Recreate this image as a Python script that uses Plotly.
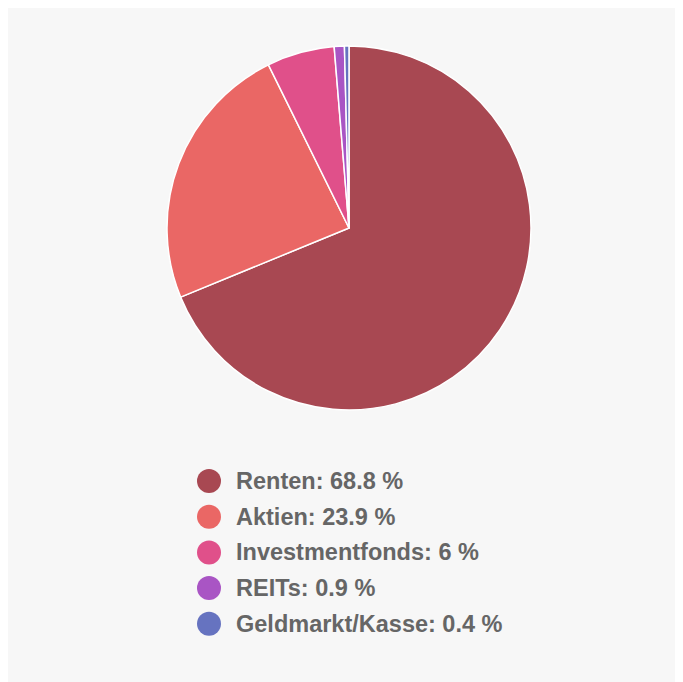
import plotly.graph_objects as go

labels = ["Renten", "Aktien", "Investmentfonds", "REITs", "Geldmarkt/Kasse"]
values = [68.8, 23.9, 6, 0.9, 0.4]
colors = ["#A84852", "#EA6765", "#E0508A", "#A955C4", "#6673C0"]

W, H = 691, 690
off = 8  # page margin in front of the figure
cx, cy, r = 349 - off, 228 - off, 182

legend_text = [f"{l}: {v:g} %" for l, v in zip(labels, values)]

fig = go.Figure()
fig.add_trace(go.Pie(
    labels=labels, values=values, sort=False, direction="clockwise", rotation=0,
    marker=dict(colors=colors, line=dict(color="white", width=1.5)),
    textinfo="none", hoverinfo="label+percent", showlegend=False,
    domain=dict(x=[(cx - r) / W, (cx + r) / W], y=[1 - (cy + r) / H, 1 - (cy - r) / H]),
))

# legend built as a scatter in its own hidden axes
step = 35.7
top = 481 - off - step / 2
bottom = top + step * len(labels)
fig.add_trace(go.Scatter(
    x=[0] * len(labels), y=list(range(len(labels))),
    mode="markers", marker=dict(color=colors, size=24, line=dict(width=0)),
    cliponaxis=False, showlegend=False, hoverinfo="skip",
))

annotations = [
    dict(x=0, y=i, xref="x", yref="y", text=f"<b>{t}</b>", showarrow=False,
         xanchor="left", yanchor="middle", xshift=25,
         font=dict(family="Liberation Sans, Arial, sans-serif", size=23.5, color="#666666"))
    for i, t in enumerate(legend_text)
]

fig.update_layout(
    width=W, height=H, margin=dict(l=0, r=0, t=0, b=0),
    paper_bgcolor="#F7F7F7", plot_bgcolor="rgba(0,0,0,0)",
    xaxis=dict(domain=[(209 - off) / W, 1], range=[0, 1], visible=False, fixedrange=True),
    yaxis=dict(domain=[1 - bottom / H, 1 - top / H], range=[len(labels) - 0.5, -0.5],
               visible=False, fixedrange=True),
    annotations=annotations,
)

fig.write_html("out.html")
